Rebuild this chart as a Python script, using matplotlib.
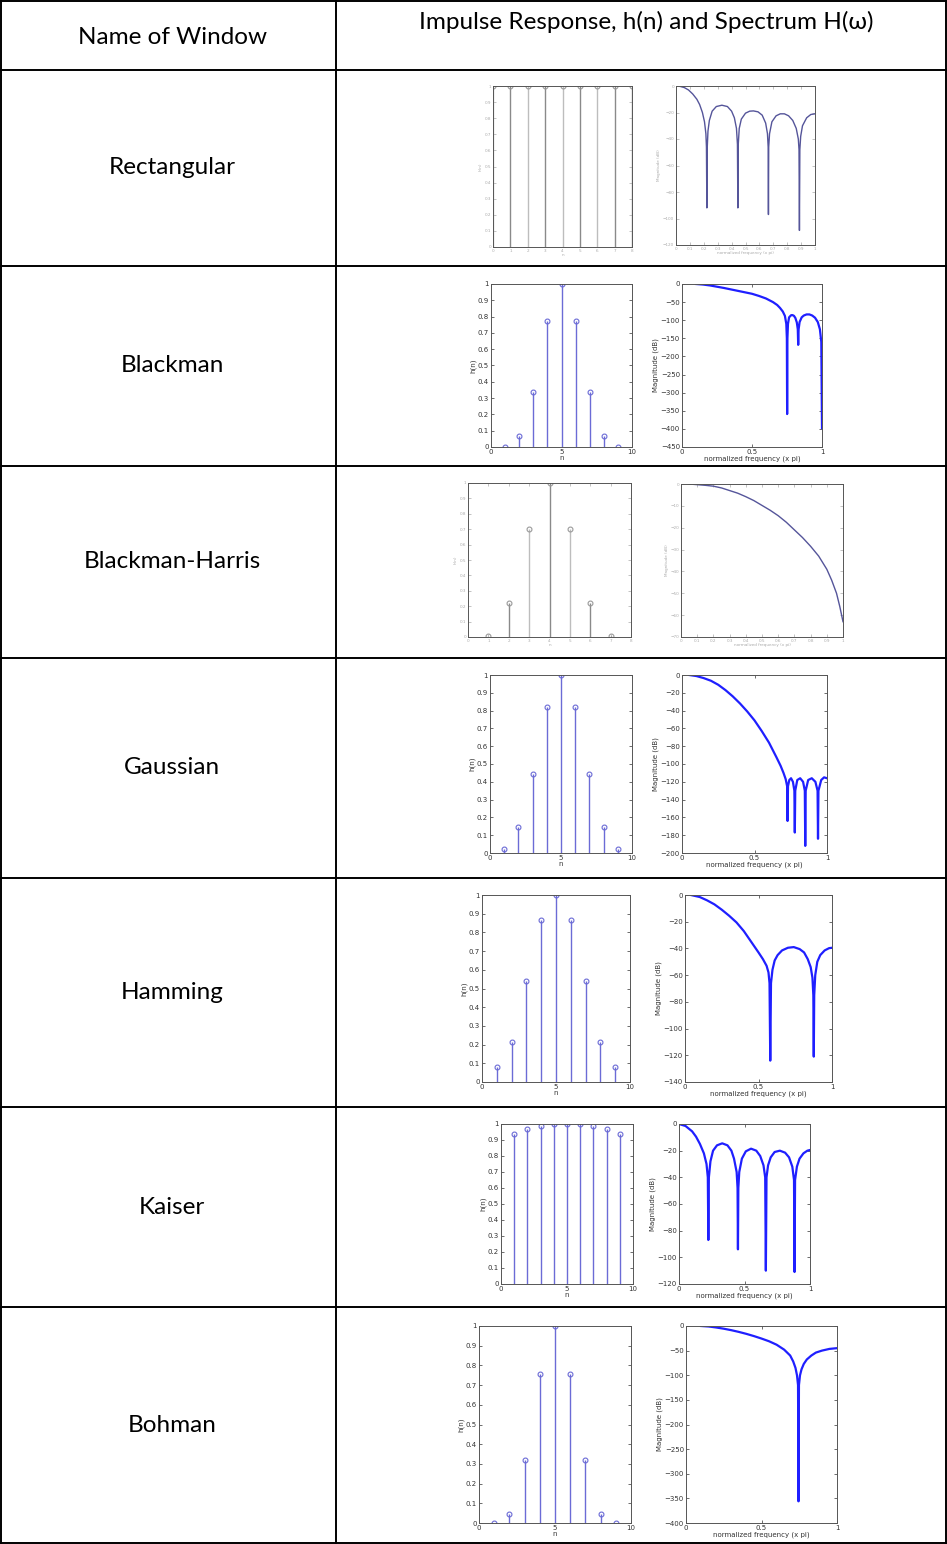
import numpy as np
import matplotlib
matplotlib.use("Agg")
import matplotlib.pyplot as plt

W, H = 947, 1544

# table text
header_left = "Name of Window"
header_right = "Impulse Response, h(n) and Spectrum H(\u03c9)"
window_names = ["Rectangular", "Blackman", "Blackman-Harris", "Gaussian",
                "Hamming", "Kaiser", "Bohman"]

# impulse responses h(n)
rect_n = [0, 1, 2, 3, 4, 5, 6, 7, 8]
rect_h = [1, 1, 1, 1, 1, 1, 1, 1, 1]
black_n = [1, 2, 3, 4, 5, 6, 7, 8, 9]
black_h = [0, 0.066, 0.34, 0.77, 1, 0.77, 0.34, 0.066, 0]
bh_n = [1, 2, 3, 4, 5, 6, 7]
bh_h = [0.006, 0.22, 0.70, 1, 0.70, 0.22, 0.006]
gauss_n = [1, 2, 3, 4, 5, 6, 7, 8, 9]
gauss_h = [0.02, 0.145, 0.445, 0.82, 1, 0.82, 0.445, 0.145, 0.02]
hamm_n = [1, 2, 3, 4, 5, 6, 7, 8, 9]
hamm_h = [0.08, 0.215, 0.54, 0.865, 1, 0.865, 0.54, 0.215, 0.08]
kais_n = [1, 2, 3, 4, 5, 6, 7, 8, 9]
kais_h = [0.94, 0.97, 0.99, 0.997, 1, 0.997, 0.99, 0.97, 0.94]
bohm_n = [1, 2, 3, 4, 5, 6, 7, 8, 9]
bohm_h = [0, 0.048, 0.318, 0.755, 1, 0.755, 0.318, 0.048, 0]

# spectra, magnitude in dB vs normalized frequency
rect_f = [0, 0.03, 0.06, 0.09, 0.12, 0.15, 0.17, 0.19, 0.205, 0.215, 0.219, 0.222,
          0.225, 0.23, 0.24, 0.26, 0.29, 0.33, 0.37, 0.40, 0.42, 0.435, 0.442, 0.445,
          0.448, 0.455, 0.47, 0.5, 0.53, 0.557, 0.59, 0.62, 0.645, 0.658, 0.663, 0.665,
          0.667, 0.673, 0.69, 0.72, 0.75, 0.78, 0.81, 0.84, 0.865, 0.88, 0.885, 0.888,
          0.891, 0.897, 0.91, 0.94, 0.97, 1.0]
rect_m = [0, -0.3, -1.2, -3, -6, -10, -14, -20, -27, -36, -46, -92,
          -46, -34, -26, -19, -15.5, -14.5, -15.5, -19, -24, -32, -44, -92,
          -44, -32, -25, -20.5, -19, -18.8, -19.5, -22, -28, -36, -46, -97,
          -46, -36, -27, -22.5, -21, -21, -22.5, -26, -32, -40, -48, -109,
          -48, -38, -30, -24, -21.5, -21]
black_f = [0.1, 0.15, 0.2, 0.25, 0.3, 0.35, 0.4, 0.45, 0.5, 0.55, 0.6, 0.65, 0.68,
           0.7, 0.72, 0.735, 0.745, 0.749, 0.751, 0.753, 0.757, 0.765, 0.78, 0.79,
           0.8, 0.81, 0.82, 0.827, 0.83, 0.833, 0.84, 0.855, 0.87, 0.89, 0.91, 0.93,
           0.95, 0.97, 0.985, 0.995, 1.0]
black_m = [0, -1.5, -4, -7.5, -11, -15, -19, -23, -27, -33, -40, -50, -58,
           -66, -76, -88, -110, -150, -359, -150, -110, -92, -86, -86,
           -88, -94, -106, -125, -168, -125, -105, -92, -87, -84, -84, -87,
           -93, -105, -125, -160, -398]
bh_f = [0.05, 0.1, 0.15, 0.2, 0.25, 0.3, 0.35, 0.4, 0.45, 0.5, 0.55, 0.6, 0.65,
        0.7, 0.75, 0.8, 0.85, 0.9, 0.93, 0.96, 0.98, 1.0]
bh_m = [0, -0.3, -0.6, -1, -1.8, -3, -4.2, -5.8, -7.6, -9.8, -12, -14.5, -17.5,
        -21, -24.5, -28.5, -33, -39, -44, -50, -56, -63]
gauss_f = [0.05, 0.1, 0.15, 0.2, 0.25, 0.3, 0.35, 0.4, 0.45, 0.5, 0.55, 0.6, 0.65,
           0.68, 0.7, 0.715, 0.725, 0.728, 0.731, 0.74, 0.752, 0.765, 0.775, 0.778,
           0.781, 0.795, 0.815, 0.835, 0.847, 0.85, 0.853, 0.87, 0.895, 0.92, 0.935,
           0.938, 0.941, 0.96, 0.98, 1.0]
gauss_m = [0, -1.2, -3.5, -6.5, -11, -17, -24, -32, -41, -51, -63, -76, -92,
           -102, -110, -117, -125, -164, -125, -118, -116, -120, -130, -177,
           -130, -118, -116, -120, -130, -192, -130, -118, -116, -120, -130,
           -184, -130, -118, -115, -116]
hamm_f = [0.04, 0.1, 0.15, 0.2, 0.25, 0.3, 0.35, 0.4, 0.45, 0.5, 0.53, 0.555, 0.568,
          0.575, 0.58, 0.585, 0.595, 0.61, 0.63, 0.66, 0.7, 0.74, 0.78, 0.81, 0.835,
          0.855, 0.867, 0.873, 0.876, 0.879, 0.886, 0.9, 0.92, 0.95, 0.98, 1.0]
hamm_m = [0, -1.5, -4, -7, -11, -15.5, -20.5, -27, -35, -43, -48, -53, -58,
          -66, -124, -66, -56, -49, -45, -41.5, -39.5, -39, -40.5, -43, -48,
          -54, -62, -75, -121, -75, -60, -50, -45, -41.5, -39.8, -39.5]
kais_f = [0, 0.05, 0.1, 0.13, 0.16, 0.19, 0.21, 0.22, 0.224, 0.228, 0.24, 0.26, 0.29,
          0.33, 0.37, 0.4, 0.42, 0.44, 0.447, 0.45, 0.453, 0.46, 0.48, 0.51, 0.55,
          0.59, 0.62, 0.645, 0.658, 0.663, 0.668, 0.68, 0.7, 0.73, 0.77, 0.81, 0.84,
          0.865, 0.878, 0.882, 0.886, 0.9, 0.92, 0.95, 0.98, 1.0]
kais_m = [0, -1.5, -5.5, -9.5, -15, -22, -30, -40, -87, -40, -28, -20, -16,
          -14.5, -16, -20, -26, -36, -48, -94, -48, -36, -26, -20.5, -18.5,
          -20, -24, -31, -40, -110, -40, -31, -25, -21, -20, -21.5, -25,
          -32, -42, -111, -42, -32, -26, -22, -20, -19.5]
bohm_f = [0.1, 0.15, 0.2, 0.25, 0.3, 0.35, 0.4, 0.45, 0.5, 0.55, 0.6, 0.65, 0.69,
          0.71, 0.725, 0.735, 0.742, 0.745, 0.748, 0.755, 0.765, 0.78, 0.8, 0.83,
          0.86, 0.9, 0.95, 1.0]
bohm_m = [0, -1, -3, -5.5, -8.5, -12, -16, -20.5, -25.5, -31, -38, -48, -60,
          -72, -85, -100, -120, -356, -120, -100, -88, -77, -68, -60,
          -54, -50, -46.5, -45]

fig = plt.figure(figsize=(W / 100, H / 100), dpi=100)

# background axes in pixel coordinates for the table
bg = fig.add_axes([0, 0, 1, 1])
bg.set_xlim(0, W)
bg.set_ylim(H, 0)
bg.axis("off")

row_lines = [1, 70, 266, 466, 658, 878, 1107, 1307, 1543]
for y in row_lines:
    bg.plot([1, W - 1], [y, y], color="black", lw=1.4)
for x in [1, 336, W - 1]:
    bg.plot([x, x], [1, H - 1], color="black", lw=1.4)

font = ["Lato", "DejaVu Sans"]
fsz = 17.5
bg.text(172, 38, header_left, ha="center", va="center", fontsize=fsz, family=font)
bg.text(646, 22, header_right, ha="center", va="center", fontsize=fsz, family=font)
for i, name in enumerate(window_names):
    yc = (row_lines[i + 1] + row_lines[i + 2]) / 2
    bg.text(172, yc, name, ha="center", va="center", fontsize=fsz, family=font)


def px_axes(l, t, r, b):
    return fig.add_axes([l / W, 1 - b / H, (r - l) / W, (b - t) / H])


def style(ax, fs, col):
    ax.tick_params(direction="in", top=True, right=True, length=2, width=0.5,
                   labelsize=fs, colors=col, pad=1.5)
    for s in ax.spines.values():
        s.set_color("#555555")
        s.set_linewidth(0.7)


def stem_plot(box, n, h, xmax, blurry=False):
    ax = px_axes(*box)
    col = "#9a9a9a" if blurry else "#6b6bd6"
    fs = 3 if blurry else 5
    lc = "#aaaaaa" if blurry else "#333333"
    ml, sl, bl = ax.stem(n, h, basefmt=" ")
    plt.setp(sl, color=col, lw=1.0)
    if blurry:
        sl.set_color(["#bdbdbd", "#8a8a8a"] * (len(n) // 2) + ["#8a8a8a"] * (len(n) % 2))
    plt.setp(ml, marker="o", markersize=3.5, markerfacecolor="none",
             markeredgecolor=col, markeredgewidth=0.8)
    ax.set_xlim(0, xmax)
    ax.set_ylim(0, 1)
    ax.set_yticks(np.arange(0, 1.01, 0.1))
    ax.set_yticklabels(["0"] + [f"{v:.1f}" for v in np.arange(0.1, 0.95, 0.1)] + ["1"])
    if blurry:
        ax.set_xticks(range(0, xmax + 1))
    else:
        ax.set_xticks([0, 5, 10])
    ax.set_xlabel("n", fontsize=fs, color=lc, labelpad=0)
    ax.set_ylabel("h(n)", fontsize=fs, color=lc, labelpad=1)
    style(ax, fs, lc)
    return ax


def spec_plot(box, f, m, ymin, ystep, blurry=False):
    ax = px_axes(*box)
    col = "#55559a" if blurry else "#1f1fff"
    fs = 3 if blurry else 5
    lc = "#aaaaaa" if blurry else "#333333"
    ax.plot(f, m, color=col, lw=1.0 if blurry else 1.6)
    ax.set_xlim(0, 1)
    ax.set_ylim(ymin, 0)
    ax.set_yticks(np.arange(ymin, 1, ystep))
    if blurry:
        ax.set_xticks(np.arange(0, 1.01, 0.1))
        ax.set_xticklabels(["0"] + [f"{v:.1f}" for v in np.arange(0.1, 0.95, 0.1)] + ["1"])
    else:
        ax.set_xticks([0, 0.5, 1])
        ax.set_xticklabels(["0", "0.5", "1"])
    ax.set_xlabel("normalized frequency (x pi)", fontsize=fs, color=lc, labelpad=0)
    ax.set_ylabel("Magnitude (dB)", fontsize=fs, color=lc, labelpad=1)
    style(ax, fs, lc)
    return ax


# Rectangular
stem_plot((493, 86, 632, 247), rect_n, rect_h, 8, blurry=True)
spec_plot((676, 86, 815, 245), rect_f, rect_m, -120, 20, blurry=True)
# Blackman
stem_plot((491, 284, 632, 447), black_n, black_h, 10)
spec_plot((682, 284, 822, 447), black_f, black_m, -450, 50)
# Blackman-Harris
stem_plot((468, 483, 631, 637), bh_n, bh_h, 8, blurry=True)
spec_plot((681, 484, 843, 637), bh_f, bh_m, -70, 10, blurry=True)
# Gaussian
stem_plot((490, 675, 632, 853), gauss_n, gauss_h, 10)
spec_plot((682, 675, 827, 853), gauss_f, gauss_m, -200, 20)
# Hamming
stem_plot((482, 895, 630, 1082), hamm_n, hamm_h, 10)
spec_plot((685, 895, 832, 1082), hamm_f, hamm_m, -140, 20)
# Kaiser
stem_plot((501, 1124, 633, 1284), kais_n, kais_h, 10)
spec_plot((679, 1124, 810, 1284), kais_f, kais_m, -120, 20)
# Bohman
stem_plot((479, 1326, 631, 1523), bohm_n, bohm_h, 10)
spec_plot((686, 1326, 837, 1523), bohm_f, bohm_m, -400, 50)

fig.savefig("out.png", dpi=100)
